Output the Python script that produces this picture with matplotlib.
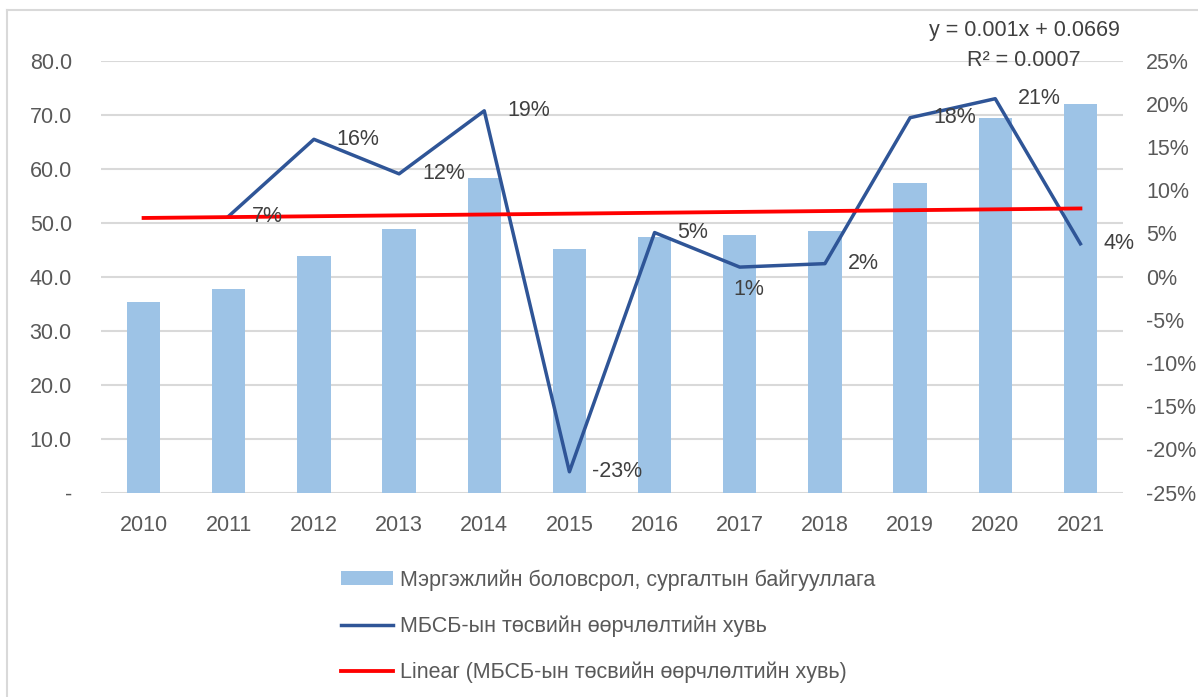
import matplotlib.pyplot as plt
import matplotlib.ticker as mticker
from matplotlib.lines import Line2D
from matplotlib.patches import Patch
import numpy as np

plt.rcParams["font.family"] = ["Liberation Sans", "DejaVu Sans"]

years = [2010, 2011, 2012, 2013, 2014, 2015, 2016, 2017, 2018, 2019, 2020, 2021]
# budget of vocational schools (left axis)
budget = [35.3, 37.7, 43.8, 48.8, 58.3, 45.1, 47.3, 47.8, 48.5, 57.4, 69.3, 71.9]
# yearly change, % (right axis); 2010 has no value
change = [np.nan, 7.0, 15.9, 11.9, 19.2, -22.6, 5.1, 1.1, 1.5, 18.4, 20.6, 3.8]
change_labels = ["", "7%", "16%", "12%", "19%", "-23%", "5%", "1%", "2%", "18%", "21%", "4%"]
# Excel trendline shown on the chart
trend_slope = 0.001
trend_intercept = 0.0669
trend_r2 = "0.0007"

bar_name = "Мэргэжлийн боловсрол, сургалтын байгууллага"
line_name = "МБСБ-ын төсвийн өөрчлөлтийн хувь"
trend_name = "Linear (МБСБ-ын төсвийн өөрчлөлтийн хувь)"

text_col = "#595959"
label_col = "#404040"
bar_col = "#9DC3E6"
line_col = "#2F5597"
grid_col = "#D9D9D9"
fs = 15.5

fig = plt.figure(figsize=(11.98, 6.97), dpi=100)
ax = fig.add_axes([0.0843, 0.2934, 0.8531, 0.6195])
ax2 = ax.twinx()

x = np.arange(len(years))
ax.bar(x, budget, width=0.39, color=bar_col, zorder=2)

ax.set_xlim(-0.5, len(years) - 0.5)
ax.set_ylim(0, 80)
ax.set_yticks(np.arange(0, 81, 10))
ax.yaxis.set_major_formatter(mticker.FuncFormatter(lambda v, p: "-" if v == 0 else f"{v:.1f}"))
ax.set_xticks(x)
ax.set_xticklabels([str(y) for y in years])
ax.grid(axis="y", color=grid_col, linewidth=1.5, zorder=0)
ax.set_axisbelow(True)
for s in ax.spines.values():
    s.set_visible(False)
for s in ax2.spines.values():
    s.set_visible(False)
ax.tick_params(axis="both", length=0, labelsize=fs, colors=text_col)
ax.tick_params(axis="y", pad=21)
ax.tick_params(axis="x", pad=16)

# line on secondary axis
ax2.plot(x, change, color=line_col, linewidth=2.5, zorder=4)
trend = (trend_slope * (x + 1) + trend_intercept) * 100
ax2.plot(x, trend, color="#FF0000", linewidth=2.75, zorder=5)
ax2.set_ylim(-25, 25)
ax2.set_yticks(np.arange(-25, 26, 5))
ax2.yaxis.set_major_formatter(mticker.FuncFormatter(lambda v, p: f"{v:.0f}%"))
ax2.tick_params(axis="y", length=0, labelsize=fs, colors=text_col, pad=16.5)

for i, (v, lab) in enumerate(zip(change, change_labels)):
    if not lab:
        continue
    if lab == "1%":
        ax2.annotate(lab, (x[i], v), xytext=(6.5, -16), textcoords="offset points",
                     ha="center", va="center", fontsize=fs, color=label_col, zorder=6)
    else:
        ax2.annotate(lab, (x[i], v), xytext=(16.5, 0), textcoords="offset points",
                     ha="left", va="center", fontsize=fs, color=label_col, zorder=6)

fig.text(0.855, 0.956, f"y = {trend_slope}x + {trend_intercept}", ha="center", va="center",
         fontsize=fs, color=label_col)
fig.text(0.855, 0.913, f"R² = {trend_r2}", ha="center", va="center", fontsize=fs,
         color=label_col)

handles = [
    Patch(facecolor=bar_col, edgecolor="none"),
    Line2D([0], [0], color=line_col, linewidth=2.5),
    Line2D([0], [0], color="#FF0000", linewidth=2.75),
]
leg = fig.legend(handles, [bar_name, line_name, trend_name], loc="upper left",
                 bbox_to_anchor=(0.2846, 0.1836), frameon=False, fontsize=fs,
                 labelspacing=1.15, handlelength=2.42, handleheight=0.6,
                 handletextpad=0.3, borderpad=0, borderaxespad=0)
for t in leg.get_texts():
    t.set_color(text_col)

# chart area border (left and top edges visible)
fig.add_artist(Line2D([0.006, 0.006], [0, 0.986], transform=fig.transFigure,
                      color=grid_col, linewidth=1.5))
fig.add_artist(Line2D([0.006, 1], [0.986, 0.986], transform=fig.transFigure,
                      color=grid_col, linewidth=1.5))

fig.savefig("out.png", dpi=100)
